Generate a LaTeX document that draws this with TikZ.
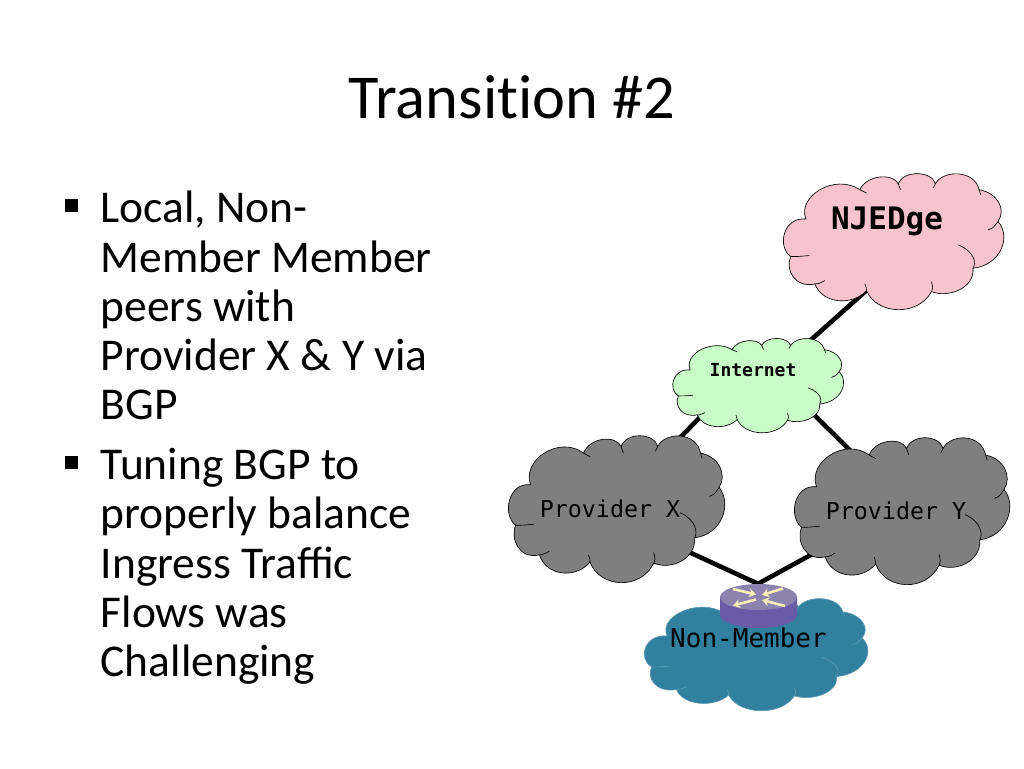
\documentclass[tikz,border=0pt]{standalone}
\usepackage{fontspec}
\setmainfont{Carlito}
\newfontfamily\cloudfont{DejaVu Sans Mono}
\usetikzlibrary{backgrounds,arrows.meta}
\definecolor{pinkcloud}{HTML}{F7C3CE}
\definecolor{greencloud}{HTML}{C8FDC8}
\definecolor{graycloud}{HTML}{7F7F7F}
\definecolor{bluecloud}{HTML}{31809F}
\definecolor{bluerim}{HTML}{5A98B0}
\definecolor{routertop}{HTML}{8C84AE}
\definecolor{routerside}{HTML}{6A5BA6}
\definecolor{routerarrow}{HTML}{F6ECB8}
\tikzset{
    pics/netcloud/.style 2 args={code={
        \path[fill=#1,draw=#2,line width=0.65pt] (63,138)
            .. controls (35,70) and (150,0) .. (225,50)
            .. controls (245,5) and (325,0) .. (340,32)
            .. controls (355,-8) and (440,-8) .. (452,32)
            .. controls (475,-10) and (570,-10) .. (583,50)
            .. controls (640,60) and (665,110) .. (640,145)
            .. controls (680,190) and (650,275) .. (565,285)
            .. controls (570,345) and (490,375) .. (440,355)
            .. controls (400,430) and (275,425) .. (245,352)
            .. controls (200,400) and (110,390) .. (90,332)
            .. controls (30,345) and (0,290) .. (17,250)
            .. controls (-25,220) and (-5,130) .. (63,138) -- cycle;
        % the short inner strokes of the cloud
        \draw[#2,line width=0.65pt] (610,170) .. controls (625,165) .. (640,145)
            (520,215) .. controls (570,235) and (575,270) .. (565,285)
            (440,355) .. controls (445,345) .. (440,325)
            (245,352) .. controls (245,345) .. (240,332)
            (90,332) .. controls (100,332) .. (120,322)
            (17,250) .. controls (40,250) .. (73,247)
            (583,50) -- (588,65)
            (340,32) -- (347,50)
            (452,32) -- (445,45)
            (225,50) -- (245,60);
    }},
    cloudlabel/.style={font=\cloudfont,inner sep=0pt},
    link/.style={line width=4.6pt,black,line join=miter},
    bodytext/.style={anchor=north west,align=left,inner sep=0pt,
        font=\fontsize{45.5}{49.3}\selectfont},
    marker/.style={fill=black,minimum size=13pt,inner sep=0pt},
    routerdart/.style={routerarrow,line width=2.6pt,-{Stealth[length=7pt,width=9pt]}}
}
\begin{document}
\begin{tikzpicture}[x=1pt,y=-1pt]
    \useasboundingbox (0,0) rectangle (1024,768);
    % title and bullets
    \node[font=\fontsize{62.4}{64}\selectfont] (title) at (512,97) {Transit\kern0pt ion \#2};
    \node[marker] (bulletone) at (71.5,205) {};
    \node[marker] (bullettwo) at (71.5,462) {};
    \node[bodytext] (bodyone) at (100.5,191) {Local, Non-\\Member Member\\peers with\\Provider X \& Y via\\BGP};
    \node[bodytext] (bodytwo) at (100.5,448) {Tuning BGP to\\properly balance\\Ingress Traffic\\Flows was\\Challenging};
    % draw the clouds: left/top/width/height/fill/line
    \foreach \cleft/\ctop/\cw/\ch/\cfill/\cline in {785/173/218/137/pinkcloud/black,
        674/338/169/95/greencloud/black,
        510/435/214/148/graycloud/black,
        796/437/213/148/graycloud/black,
        646/598/221/113/bluecloud/bluerim}
        \pic[shift={(\cleft,\ctop)},xscale={\cw/655},yscale={\ch/410}] {netcloud={\cfill}{\cline}};
    % the router
    \node[minimum width=78pt,minimum height=44pt,inner sep=0pt] (router) at (758,606) {};
    \fill[routerside] (720,597) -- (720,615) arc[start angle=180,end angle=0,x radius=38.5,y radius=13]
        -- (797,597) -- cycle;
    \fill[routertop] (758.5,597) ellipse[x radius=38.5,y radius=13];
    \draw[routerdart] (733,589) -- (756,594.5);
    \draw[routerdart] (783,588.5) -- (762,595);
    \draw[routerdart] (756,599.5) -- (733,605.5);
    \draw[routerdart] (785,606) -- (762,600);
    % the labels
    \node[cloudlabel,font=\cloudfont\bfseries\fontsize{31}{31}\selectfont] (njedge) at (887,221) {NJEDge};
    \node[cloudlabel,font=\cloudfont\bfseries\fontsize{18}{18}\selectfont] (internet) at (753,370) {Internet};
    \node[cloudlabel,font=\cloudfont\fontsize{23.3}{24}\selectfont] (providerx) at (610,509) {Provider X};
    \node[cloudlabel,font=\cloudfont\fontsize{23.3}{24}\selectfont] (providery) at (896,511) {Provider Y};
    \node[cloudlabel,font=\cloudfont\fontsize{26}{26}\selectfont] (nonmember) at (748.5,638) {Non-Member};
    % the links go under everything
    \begin{scope}[on background layer]
        \draw[link] ([shift={(8,44)}]njedge.center) -- ([shift={(5,17)}]internet.center);
        \draw[link] ([shift={(5,-11)}]internet.center) -- ([shift={(7,-8)}]providerx.center);
        \draw[link] ([shift={(5,-11)}]internet.center) -- ([shift={(6,-9)}]providery.center);
        \draw[link] ([shift={(7,10)}]providerx.center) -- (router.north) -- ([shift={(6,-6)}]providery.center);
    \end{scope}
\end{tikzpicture}
\end{document}
